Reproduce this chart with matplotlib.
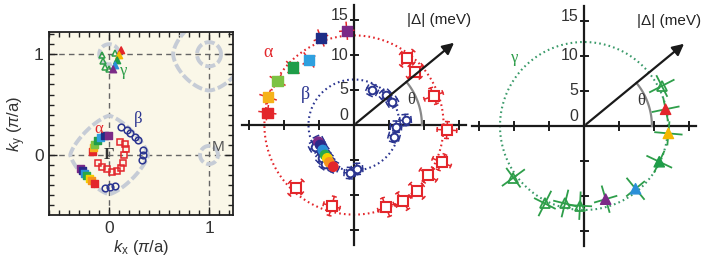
import numpy as np
import matplotlib.pyplot as plt
from matplotlib.ticker import MultipleLocator, FixedLocator

plt.rcParams['font.family'] = ['Liberation Sans', 'DejaVu Sans']
plt.rcParams['mathtext.fontset'] = 'custom'
plt.rcParams['mathtext.rm'] = 'Liberation Sans'
plt.rcParams['mathtext.it'] = 'Liberation Sans:italic'

# ---- colours ----
RED = '#e3262b'
NAVY = '#2b3590'
GREEN = '#2e9e4a'
rainbow_alpha = ['#e3262b', '#f6b21a', '#7cc242', '#1f9d49', '#2fa0df', '#1f2d86', '#7b2a87']
rainbow_beta = ['#7b2a87', '#2b2a8a', '#2a8fd8', '#2aa84a', '#f4d000', '#f7941d', '#e3262b']
rainbow_gamma = ['#e3262b', '#f5b800', '#1f9d49', '#2a8fd8', '#7b2a87']

# ---- left panel: Fermi surface points (kx, ky in pi/a) ----
alphaKx = [0.11, 0.16, 0.17, 0.15, 0.14, 0.12, 0.08, 0.03, -0.02, -0.07, -0.11]
alphaKy = [0.13, 0.11, 0.06, 0.0, -0.08, -0.13, -0.16, -0.17, -0.14, -0.12, -0.08]
alphaFillKx = [-0.17, -0.16, -0.15, -0.12, -0.09, -0.05, -0.01]
alphaFillKy = [0.03, 0.07, 0.10, 0.14, 0.17, 0.19, 0.19]
betaKx = [0.12, 0.18, 0.21, 0.26, 0.29, 0.34, 0.34, 0.33, -0.04, 0.01, 0.06]
betaKy = [0.28, 0.25, 0.22, 0.18, 0.15, 0.05, 0.0, -0.05, -0.33, -0.32, -0.31]
betaFillKx = [-0.29, -0.27, -0.25, -0.225, -0.20, -0.175, -0.15]
betaFillKy = [-0.13, -0.155, -0.18, -0.205, -0.23, -0.255, -0.28]
gammaKx = [-0.07, -0.06, -0.04, 0.0, 0.06]
gammaKy = [0.99, 0.93, 0.87, 0.85, 1.01]
gammaFillKx = [0.12, 0.10, 0.08, 0.06, 0.04]
gammaFillKy = [1.04, 0.99, 0.94, 0.89, 0.85]

# ---- middle panel: gap vs angle (theta deg, |Delta| meV) ----
alphaTheta = [51.4, 41.2, 20.1, -3.1, -23.0, -33.9, -46.3, -57.4, -68.7, -105.4, -132.8]
alphaGap = [12.2, 11.6, 12.1, 13.3, 13.6, 12.8, 13.0, 12.9, 12.6, 12.0, 12.2]
alphaFillTheta = [171.9, 162.1, 150.0, 136.7, 124.7, 110.8, 94.4]
alphaFillGap = [12.5, 12.9, 12.6, 12.0, 11.3, 13.3, 13.5]
betaTheta = [62.4, 43.4, 31.3, 5.5, -2.3, -16.3, -86.0, -95.0, -151.0, -134.0, -127.0]
betaGap = [5.6, 6.2, 6.4, 7.4, 6.0, 5.95, 6.3, 6.9, 6.4, 6.6, 6.9]
betaFillTheta = [-154.9, -149.5, -141.4, -134.0, -128.7, -123.5, -116.4]
betaFillGap = [5.63, 5.63, 5.72, 5.96, 6.1, 6.4, 6.65]
alphaGapAvg = 12.8
betaGapAvg = 6.5

# ---- right panel ----
gammaTheta = [27.2, -92.9, -103.8, -116.8, -143.8]
gammaGap = [12.5, 11.4, 11.4, 12.4, 12.5]
gammaFillTheta = [11.6, -5.0, -25.4, -50.6, -73.5]
gammaFillGap = [11.9, 12.1, 11.9, 11.6, 10.9]
gammaGapAvg = 12.0

W, H = 708, 264
fig = plt.figure(figsize=(W / 100, H / 100), dpi=100)


def pxAxes(x0, y0, x1, y1):
    # pixel box (top-left origin) to figure fraction
    return fig.add_axes([x0 / W, 1 - y1 / H, (x1 - x0) / W, (y1 - y0) / H])


def xy(theta, r):
    t = np.radians(np.asarray(theta))
    return np.asarray(r) * np.cos(t), np.asarray(r) * np.sin(t)


# ================= left panel =================
ax = pxAxes(49.3, 32.3, 232.7, 215)
ax.set_facecolor('#faf7e8')
ax.set_xlim(-0.6, 1.237)
ax.set_ylim(-0.596, 1.218)

for v in [0, 1]:
    ax.axvline(v, color='#666666', lw=1.0, ls=(0, (4, 3)), zorder=1)
    ax.axhline(v, color='#666666', lw=1.0, ls=(0, (4, 3)), zorder=1)

fsColor = '#c6ccd6'
tt = np.linspace(0, 2 * np.pi, 400)


def superellipse(cx, cy, R, p):
    c, s = np.cos(tt), np.sin(tt)
    return cx + R * np.sign(c) * np.abs(c) ** (2 / p), cy + R * np.sign(s) * np.abs(s) ** (2 / p)


for (cx, cy, R, p) in [(0, 0, 0.39, 1.35), (1, 1, 0.36, 1.6), (1, 1, 0.12, 2.0),
                       (1, 0, 0.09, 2.0), (0, 1, 0.1, 2.0)]:
    sx, sy = superellipse(cx, cy, R, p)
    ax.plot(sx, sy, color=fsColor, lw=2.8, ls=(0, (2.6, 0.8)), solid_capstyle='butt', zorder=2)

ax.plot(alphaKx, alphaKy, 's', mfc='none', mec=RED, ms=4.8, mew=1.1, zorder=4)
ax.scatter(alphaFillKx, alphaFillKy, marker='s', c=rainbow_alpha, s=26, zorder=5)
ax.plot(betaKx, betaKy, 'o', mfc='none', mec=NAVY, ms=4.8, mew=1.1, zorder=4)
ax.scatter(betaFillKx, betaFillKy, marker='s', c=rainbow_beta, s=26, zorder=5)
ax.plot(gammaKx, gammaKy, '^', mfc='none', mec=GREEN, ms=5, mew=1.1, zorder=4)
ax.scatter(gammaFillKx, gammaFillKy, marker='^', c=rainbow_gamma, s=24, zorder=5)

ax.text(-0.10, 0.26, 'α', color=RED, fontsize=12, family='Liberation Serif', ha='center', va='center',
        zorder=7)
ax.text(0.29, 0.36, 'β', color=NAVY, fontsize=12, family='Liberation Serif', ha='center', va='center')
ax.text(0.14, 0.83, 'γ', color=GREEN, fontsize=12, family='Liberation Serif', ha='center', va='center')
ax.text(0.0, 0.0, 'Γ', color='#333333', fontsize=12, family='Liberation Serif', ha='center', va='center',
        fontweight='bold')
ax.text(1.09, 0.08, 'M', color='#555555', fontsize=11, ha='center', va='center')

ax.xaxis.set_major_locator(FixedLocator([0, 1]))
ax.yaxis.set_major_locator(FixedLocator([0, 1]))
ax.xaxis.set_minor_locator(MultipleLocator(0.1))
ax.yaxis.set_minor_locator(MultipleLocator(0.1))
ax.tick_params(which='both', direction='in', top=True, right=True, color='#222222',
               labelsize=12.5, labelcolor='#333333', width=1.0)
ax.tick_params(which='major', length=6, pad=4)
ax.tick_params(which='minor', length=3.5)
for sp in ax.spines.values():
    sp.set_linewidth(1.3)
    sp.set_color('#222222')
ax.set_xlabel(r'$k_\mathrm{x}$ ($\pi$/a)', fontsize=12, color='#333333', labelpad=2)
ax.set_ylabel(r'$k_\mathrm{y}$ ($\pi$/a)', fontsize=12, color='#333333', labelpad=4)


# ================= polar-style panels =================
def polarFrame(ax, originPx, x0, x1):
    ox, oy = originPx
    ax.set_xlim((x0 - ox) / 7, (x1 - ox) / 7)
    ax.set_ylim((oy - H) / 7, oy / 7)
    ax.axis('off')
    k = '#1a1a1a'
    ax.plot([-16, 16], [0, 0], color=k, lw=1.6, zorder=3)
    ax.plot([0, 0], [-17.2, 17.2], color=k, lw=1.6, zorder=3)
    for v in [-15, -10, -5, 5, 10, 15]:
        ax.plot([v, v], [-0.6, 0.6], color=k, lw=1.4, zorder=3)
        ax.plot([-0.5, 0.5], [v, v], color=k, lw=1.4, zorder=3)
    for v, lab in [(15.6, '15'), (10, '10'), (5, '5'), (1.3, '0')]:
        ax.text(-0.75, v, lab, ha='right', va='center', fontsize=11.5, color='#333333')
    ax.annotate('', xy=(14.6, 12.0), xytext=(0, 0),
                arrowprops=dict(arrowstyle='-|>', color=k, lw=1.6, mutation_scale=17), zorder=6)
    arc = np.radians(np.linspace(0, 39.3, 50))
    ax.plot(9.7 * np.cos(arc), 9.7 * np.sin(arc), color='#888888', lw=1.6, zorder=3)
    ax.text(8.2, 3.5, 'θ', fontsize=12, family='Liberation Serif', color='#333333', ha='center', va='center')
    ax.text(7.6, 15.0, '|Δ| (meV)', fontsize=11, color='#222222', ha='left', va='center', clip_on=False)


def errCross(ax, theta, r, er, et, color, cap=0.3, lw=1.1):
    t = np.radians(theta)
    ur = np.array([np.cos(t), np.sin(t)])
    ut = np.array([-np.sin(t), np.cos(t)])
    c = r * ur
    for u, v, e in [(ur, ut, er), (ut, ur, et)]:
        a, b = c - e * u, c + e * u
        ax.plot([a[0], b[0]], [a[1], b[1]], color=color, lw=lw, zorder=4)
        if cap > 0:
            for end in (a, b):
                ax.plot([end[0] - cap * v[0], end[0] + cap * v[0]],
                        [end[1] - cap * v[1], end[1] + cap * v[1]], color=color, lw=lw, zorder=4)


def dottedCircle(ax, r, color):
    a = np.linspace(0, 2 * np.pi, 400)
    ax.plot(r * np.cos(a), r * np.sin(a), color=color, lw=1.5, ls=(0, (0.8, 1.5)), zorder=2)


# ---- middle ----
axm = pxAxes(238, 0, 470, 264)
polarFrame(axm, (354, 125), 238, 470)
dottedCircle(axm, alphaGapAvg, RED)
dottedCircle(axm, betaGapAvg, NAVY)
for th, g in zip(alphaTheta, alphaGap):
    errCross(axm, th, g, 1.4, 1.2, RED, cap=0.25)
for th, g in zip(alphaFillTheta, alphaFillGap):
    errCross(axm, th, g, 1.2, 1.0, RED, cap=0.0)
for th, g in zip(betaTheta, betaGap):
    errCross(axm, th, g, 0.8, 0.8, NAVY, cap=0.4)
for th, g in zip(betaFillTheta, betaFillGap):
    errCross(axm, th, g, 0.8, 0.8, NAVY, cap=0.4)
px, py = xy(alphaTheta, alphaGap)
axm.plot(px, py, 's', mfc='white', mec=RED, ms=7, mew=1.5, zorder=5)
px, py = xy(alphaFillTheta, alphaFillGap)
axm.scatter(px, py, marker='s', c=rainbow_alpha, s=55, zorder=5)
px, py = xy(betaTheta, betaGap)
axm.plot(px, py, 'o', mfc='white', mec=NAVY, ms=5.5, mew=1.4, zorder=5)
px, py = xy(betaFillTheta, betaFillGap)
axm.scatter(px, py, marker='o', c=rainbow_beta, s=45, zorder=6)
axm.text(-12.3, 10.4, 'α', color=RED, fontsize=13, family='Liberation Serif', ha='center', va='center')
axm.text(-7.0, 4.4, 'β', color=NAVY, fontsize=13, family='Liberation Serif', ha='center', va='center')

# ---- right ----
axr = pxAxes(470, 0, 708, 264)
polarFrame(axr, (584, 126), 470, 708)
dottedCircle(axr, gammaGapAvg, '#3a9a6a')
for th, g in zip(gammaTheta + gammaFillTheta, gammaGap + gammaFillGap):
    errCross(axr, th, g, 1.9, 1.6, GREEN, cap=0.0, lw=1.3)
px, py = xy(gammaTheta, gammaGap)
axr.plot(px, py, '^', mfc='none', mec=GREEN, ms=7, mew=1.3, zorder=5)
px, py = xy(gammaFillTheta, gammaFillGap)
axr.scatter(px, py, marker='^', c=rainbow_gamma, s=55, zorder=5)
axr.text(-9.9, 9.7, 'γ', color=GREEN, fontsize=12, family='Liberation Serif', ha='center', va='center')

fig.savefig('out.png', dpi=100)
